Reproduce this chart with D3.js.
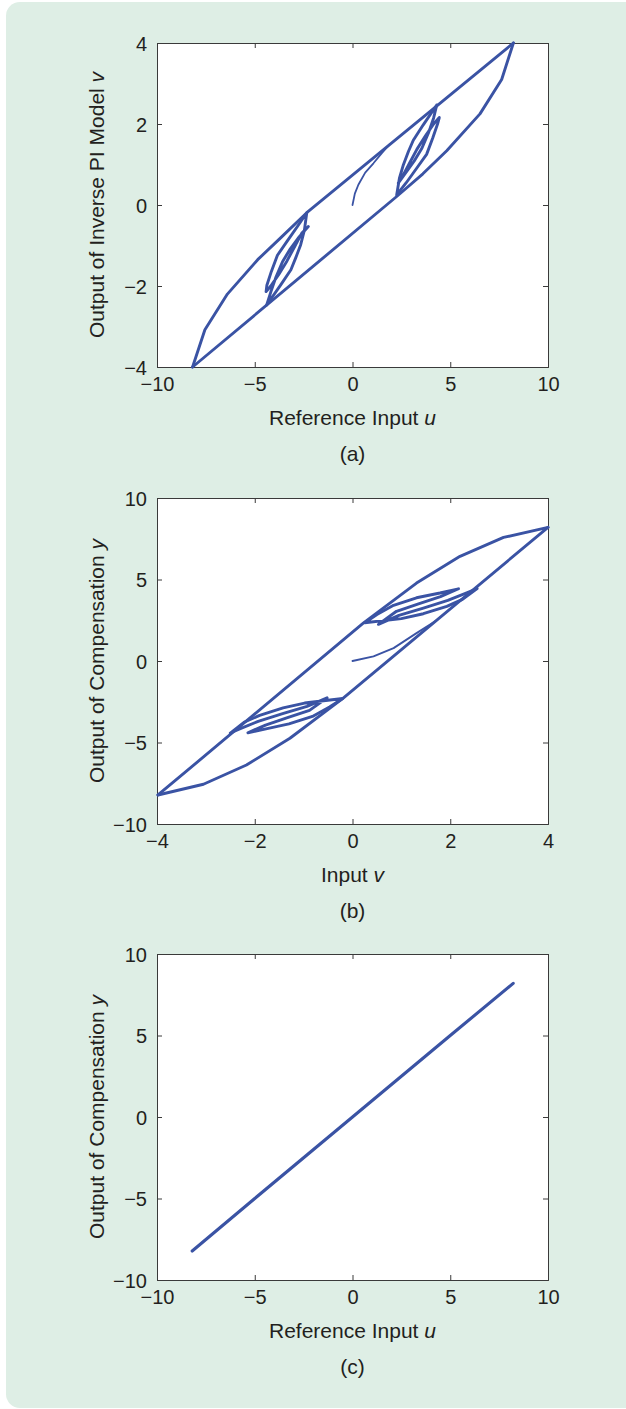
<!DOCTYPE html>
<html>
<head>
<meta charset="utf-8">
<script src="https://cdn.jsdelivr.net/npm/d3@7"></script>
<style>
  html, body { margin: 0; padding: 0; background: #ffffff; }
  svg { display: block; }
  text { font-family: "Liberation Sans", Arial, Helvetica, sans-serif; fill: #231f20; }
</style>
</head>
<body>
<svg id="fig" width="626" height="1409"></svg>
<script>
// ---------- (a) inverse PI model: reference input u -> output v ----------
const aTicksX = [-10, -5, 0, 5, 10];
const aTicksY = [-4, -2, 0, 2, 4];
// initial loading curve from the origin
const aInitial = [[0, 0], [0.12, 0.28], [0.30, 0.50], [0.65, 0.80], [1.07, 1.03], [1.50, 1.28], [1.90, 1.50]];
// major loop, increasing u (lower-right branch)
const aAscending = [[-8.18, -4.00], [2.26, 0.21], [3.60, 0.77], [4.82, 1.34], [6.52, 2.25], [7.63, 3.10], [8.23, 4.00]];
// major loop, decreasing u (upper-left branch)
const aDescending = [[8.23, 4.00], [-2.34, -0.19], [-3.65, -0.80], [-4.85, -1.35], [-6.40, -2.20], [-7.55, -3.08], [-8.18, -4.00]];
// minor loops, positive side
const aMinorPos = [
  [4.31, 2.47], [3.62, 1.98], [3.11, 1.60], [2.86, 1.32], [2.60, 0.99], [2.40, 0.66], [2.26, 0.25],
  [2.75, 0.55], [3.30, 0.92], [3.79, 1.25], [4.10, 1.65], [4.35, 2.00], [4.44, 2.16],
  [4.15, 2.00], [3.75, 1.72], [3.30, 1.38], [2.90, 1.02], [2.55, 0.70], [2.34, 0.54],
  [2.70, 0.78], [3.15, 1.08], [3.55, 1.40], [3.90, 1.80], [4.15, 2.15], [4.31, 2.47]
];
// minor loops, negative side
const aMinorNeg = [
  [-4.39, -2.47], [-3.68, -1.98], [-3.15, -1.60], [-2.90, -1.30], [-2.65, -0.98], [-2.46, -0.62], [-2.34, -0.19],
  [-2.80, -0.52], [-3.35, -0.90], [-3.84, -1.24], [-4.15, -1.64], [-4.38, -1.98], [-4.42, -2.14],
  [-4.18, -2.00], [-3.78, -1.72], [-3.35, -1.38], [-2.95, -1.02], [-2.60, -0.70], [-2.26, -0.53],
  [-2.72, -0.78], [-3.18, -1.08], [-3.58, -1.40], [-3.93, -1.80], [-4.18, -2.15], [-4.39, -2.47]
];

// ---------- (b) compensation output y versus its input v ----------
const bTicksX = [-4, -2, 0, 2, 4];
const bTicksY = [-10, -5, 0, 5, 10];
const bInitial = [[0, 0], [0.43, 0.28], [0.84, 0.79], [1.31, 1.71], [1.70, 2.45]];
const bUpper = [[-3.98, -8.22], [0.22, 2.32], [1.31, 4.78], [2.20, 6.42], [3.09, 7.58], [4.00, 8.20]];
const bLower = [[4.00, 8.20], [-0.19, -2.28], [-1.28, -4.74], [-2.17, -6.38], [-3.05, -7.56], [-3.98, -8.22]];
const bMinorPos = [
  [2.55, 4.45], [2.25, 3.78], [1.93, 3.35], [1.45, 2.90], [1.00, 2.60], [0.25, 2.35],
  [0.50, 2.85], [0.84, 3.42], [1.31, 3.88], [1.79, 4.17], [2.17, 4.43],
  [1.80, 3.95], [1.35, 3.50], [0.90, 3.05], [0.53, 2.25],
  [0.95, 2.80], [1.45, 3.25], [1.95, 3.72], [2.35, 4.20], [2.55, 4.45]
];
const bMinorNeg = [
  [-2.50, -4.42], [-2.22, -3.76], [-1.90, -3.34], [-1.42, -2.88], [-0.98, -2.58], [-0.20, -2.30],
  [-0.47, -2.82], [-0.82, -3.40], [-1.30, -3.86], [-1.77, -4.16], [-2.14, -4.40],
  [-1.78, -3.93], [-1.33, -3.48], [-0.88, -3.03], [-0.52, -2.26],
  [-0.93, -2.78], [-1.43, -3.23], [-1.93, -3.70], [-2.32, -4.18], [-2.50, -4.42]
];

// ---------- (c) compensation output y versus reference input u ----------
const cTicksX = [-10, -5, 0, 5, 10];
const cTicksY = [-10, -5, 0, 5, 10];
const cResponse = [[-8.20, -8.22], [-5.0, -5.0], [0, 0], [5.0, 5.0], [8.22, 8.20]];

// ---------- styling ----------
const LINE = "#3a53a4";
const FRAME = "#3a3a3a";
const FONT = 21;       // axis titles and captions
const TICK_FONT = 20;  // tick labels
const plotLeft = 157, plotRight = 548;

const svg = d3.select("#fig");

// light green page panel
svg.append("rect")
  .attr("x", 6).attr("y", 2)
  .attr("width", 640).attr("height", 1406)
  .attr("rx", 14).attr("ry", 14)
  .attr("fill", "#deeee5");

const fmt = d => (d < 0 ? "\u2212" + Math.abs(d) : String(d));

function drawPanel(cfg) {
  const x = d3.scaleLinear().domain(cfg.xDomain).range([plotLeft, plotRight]);
  const y = d3.scaleLinear().domain(cfg.yDomain).range([cfg.bottom, cfg.top]);
  const g = svg.append("g");

  g.append("rect")
    .attr("x", plotLeft).attr("y", cfg.top)
    .attr("width", plotRight - plotLeft).attr("height", cfg.bottom - cfg.top)
    .attr("fill", "#ffffff");

  // axes with inward ticks on all four sides
  const tickLen = 5;
  const axB = d3.axisBottom(x).tickValues(cfg.xTicks).tickSize(-tickLen).tickFormat(fmt);
  const axT = d3.axisTop(x).tickValues(cfg.xTicks).tickSize(-tickLen).tickFormat("");
  const axL = d3.axisLeft(y).tickValues(cfg.yTicks).tickSize(-tickLen).tickFormat(fmt).tickPadding(10);
  const axR = d3.axisRight(y).tickValues(cfg.yTicks).tickSize(-tickLen).tickFormat("");

  const gb = g.append("g").attr("transform", `translate(0,${cfg.bottom})`).call(axB);
  const gt = g.append("g").attr("transform", `translate(0,${cfg.top})`).call(axT);
  const gl = g.append("g").attr("transform", `translate(${plotLeft},0)`).call(axL);
  const gr = g.append("g").attr("transform", `translate(${plotRight},0)`).call(axR);
  [gb, gt, gl, gr].forEach(a => {
    a.select(".domain").attr("stroke", FRAME).attr("stroke-width", 1);
    a.selectAll(".tick line").attr("stroke", FRAME).attr("stroke-width", 1);
    a.selectAll(".tick text")
      .attr("font-size", TICK_FONT)
      .attr("font-family", '"Liberation Sans", Arial, sans-serif')
      .attr("fill", "#231f20");
  });
  gb.selectAll(".tick text").attr("dy", null).attr("y", 24);
  gl.selectAll(".tick text").attr("dy", "0.35em");

  // curves
  const line = d3.line().x(d => x(d[0])).y(d => y(d[1]));
  cfg.series.forEach(s => {
    g.append("path")
      .datum(s.pts)
      .attr("d", line)
      .attr("fill", "none")
      .attr("stroke", LINE)
      .attr("stroke-width", s.w)
      .attr("stroke-linejoin", "round")
      .attr("stroke-linecap", "round");
  });

  // axis titles
  const cx = (plotLeft + plotRight) / 2;
  const xt = g.append("text")
    .attr("x", cx).attr("y", cfg.bottom + 58)
    .attr("text-anchor", "middle").attr("font-size", FONT);
  xt.append("tspan").text(cfg.xTitle[0]);
  xt.append("tspan").attr("font-style", "italic").text(cfg.xTitle[1]);

  const yt = g.append("text")
    .attr("transform", `translate(104,${(cfg.top + cfg.bottom) / 2}) rotate(-90)`)
    .attr("text-anchor", "middle").attr("font-size", FONT);
  yt.append("tspan").text(cfg.yTitle[0]);
  yt.append("tspan").attr("font-style", "italic").text(cfg.yTitle[1]);

  g.append("text")
    .attr("x", cx).attr("y", cfg.bottom + 94)
    .attr("text-anchor", "middle").attr("font-size", FONT)
    .text(cfg.caption);
}

drawPanel({
  top: 43, bottom: 367,
  xDomain: [-10, 10], yDomain: [-4, 4],
  xTicks: aTicksX, yTicks: aTicksY,
  xTitle: ["Reference Input ", "u"],
  yTitle: ["Output of Inverse PI Model ", "v"],
  caption: "(a)",
  series: [
    { pts: aAscending, w: 2.9 },
    { pts: aDescending, w: 2.9 },
    { pts: aMinorPos, w: 2.9 },
    { pts: aMinorNeg, w: 2.9 },
    { pts: aInitial, w: 1.8 }
  ]
});

drawPanel({
  top: 498, bottom: 824,
  xDomain: [-4, 4], yDomain: [-10, 10],
  xTicks: bTicksX, yTicks: bTicksY,
  xTitle: ["Input ", "v"],
  yTitle: ["Output of Compensation ", "y"],
  caption: "(b)",
  series: [
    { pts: bUpper, w: 2.9 },
    { pts: bLower, w: 2.9 },
    { pts: bMinorPos, w: 2.9 },
    { pts: bMinorNeg, w: 2.9 },
    { pts: bInitial, w: 1.8 }
  ]
});

drawPanel({
  top: 954, bottom: 1280,
  xDomain: [-10, 10], yDomain: [-10, 10],
  xTicks: cTicksX, yTicks: cTicksY,
  xTitle: ["Reference Input ", "u"],
  yTitle: ["Output of Compensation ", "y"],
  caption: "(c)",
  series: [
    { pts: cResponse, w: 3.1 }
  ]
});
</script>
</body>
</html>
